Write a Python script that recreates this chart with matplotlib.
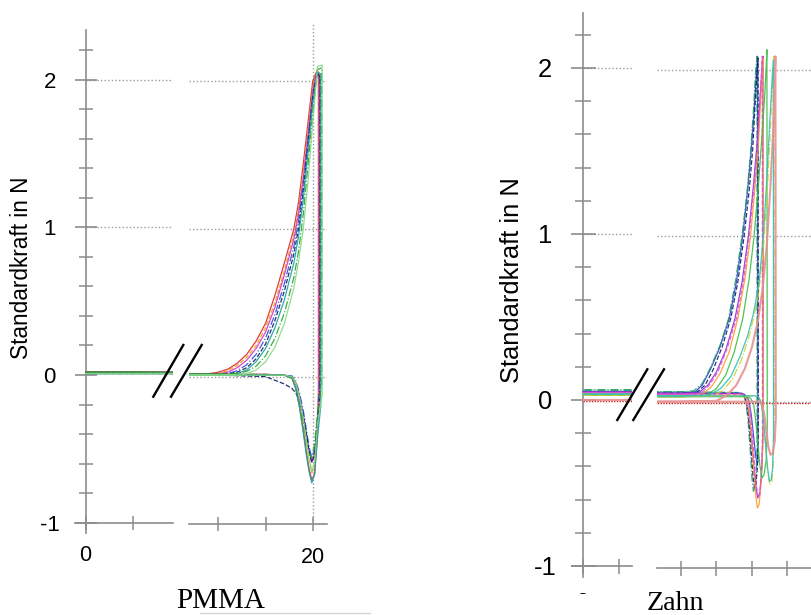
import matplotlib
matplotlib.use('Agg')
import matplotlib.pyplot as plt
from matplotlib.lines import Line2D
from matplotlib.patches import Rectangle
from matplotlib.ticker import MultipleLocator

plt.rcParams['font.family'] = ['Liberation Sans', 'DejaVu Sans']

# ---- PMMA: Standardkraft (N) über Zeit, 8 Messkurven ----
pmma_rise_x = [0, 3, 6, 9, 10, 11, 12, 13, 14, 15, 16, 17, 18, 18.5, 19, 19.5, 20, 20.3, 20.5]
pmma_rise_y = [
    [0.02, 0.02, 0.02, 0.02, 0.03, 0.05, 0.09, 0.15, 0.24, 0.36, 0.55, 0.77, 1.0, 1.18, 1.44, 1.72, 2.0, 2.05, 2.07],
    [0.015, 0.015, 0.015, 0.015, 0.02, 0.04, 0.075, 0.13, 0.21, 0.33, 0.5, 0.72, 0.96, 1.13, 1.38, 1.66, 1.96, 2.04, 2.08],
    [0.02, 0.02, 0.02, 0.02, 0.02, 0.03, 0.06, 0.11, 0.19, 0.3, 0.47, 0.69, 0.93, 1.1, 1.34, 1.63, 1.93, 2.03, 2.06],
    [0.01, 0.01, 0.01, 0.01, 0.012, 0.02, 0.04, 0.08, 0.15, 0.26, 0.42, 0.63, 0.88, 1.05, 1.3, 1.6, 1.9, 2.02, 2.07],
    [0.015, 0.015, 0.015, 0.015, 0.015, 0.018, 0.03, 0.06, 0.12, 0.22, 0.38, 0.58, 0.83, 1.0, 1.25, 1.56, 1.88, 2.0, 2.05],
    [0.01, 0.01, 0.01, 0.01, 0.01, 0.012, 0.02, 0.045, 0.1, 0.19, 0.33, 0.52, 0.77, 0.95, 1.2, 1.52, 1.85, 1.98, 2.06],
    [0.02, 0.02, 0.02, 0.02, 0.02, 0.02, 0.022, 0.035, 0.07, 0.14, 0.26, 0.43, 0.67, 0.85, 1.1, 1.43, 1.78, 1.96, 2.08],
    [0.01, 0.01, 0.01, 0.01, 0.01, 0.01, 0.012, 0.02, 0.045, 0.1, 0.2, 0.36, 0.6, 0.78, 1.0, 1.32, 1.72, 1.94, 2.1],
]
pmma_drop_x = [20.6, 20.65, 20.7, 20.75, 20.8, 20.85, 20.95, 21.0]
pmma_peak_y = [2.05, 2.06, 2.04, 2.05, 2.03, 2.05, 2.09, 2.11]
pmma_drop_y = [-0.1, -0.05, -0.15, 0.0, -0.1, -0.2, -0.05, -0.12]
pmma_dip_x = [20.5, 20.2, 19.9, 19.6, 19.3, 19.0, 18.6, 18.2, 17.8, 17.0, 15.0, 10.0, 5.0, 0.0]
pmma_dip_y = [
    [-0.4, -0.66, -0.7, -0.62, -0.5, -0.36, -0.2, -0.08, -0.01, 0.01, 0.015, 0.015, 0.02, 0.02],
    [-0.38, -0.6, -0.65, -0.56, -0.44, -0.31, -0.17, -0.06, -0.005, 0.01, 0.01, 0.01, 0.01, 0.01],
    [-0.34, -0.54, -0.58, -0.5, -0.38, -0.26, -0.13, -0.04, 0.0, 0.01, 0.015, 0.015, 0.015, 0.015],
    [-0.3, -0.5, -0.55, -0.47, -0.35, -0.23, -0.11, -0.03, 0.005, 0.01, 0.01, 0.01, 0.01, 0.01],
    [-0.3, -0.52, -0.58, -0.5, -0.38, -0.26, -0.16, -0.11, -0.08, -0.05, 0.0, 0.01, 0.01, 0.01],
    [-0.42, -0.66, -0.72, -0.64, -0.52, -0.38, -0.21, -0.08, -0.01, 0.01, 0.01, 0.01, 0.01, 0.01],
    [-0.25, -0.45, -0.55, -0.52, -0.43, -0.31, -0.16, -0.06, -0.01, 0.01, 0.015, 0.015, 0.02, 0.02],
    [-0.32, -0.58, -0.64, -0.55, -0.42, -0.28, -0.14, -0.04, 0.0, 0.01, 0.01, 0.01, 0.01, 0.01],
]
pmma_colors = ['#d62728', '#ff9900', '#cc33cc', '#2a4bd7', '#101860', '#17a2a2', '#2ca02c', '#86d986']
pmma_styles = ['-', '--', '-', '-.', '--', '-', '-.', '-']

# ---- Zahn: 10 Messkurven ----
zahn_rise_x = [
    [0, 6.5, 10, 12.0, 13.0, 14.2, 15.5, 16.8, 17.8, 18.7, 19.4, 19.9, 20.3, 20.6, 20.8],
    [0, 6.5, 10, 11.8, 13.0, 14.1, 15.5, 16.7, 17.7, 18.6, 19.3, 19.8, 20.2, 20.5, 20.7],
    [0, 6.5, 10, 12.2, 13.4, 14.5, 15.8, 17.0, 18.0, 18.9, 19.6, 20.1, 20.4, 20.7, 20.85],
    [0, 6.5, 10, 12.5, 13.8, 15.0, 16.3, 17.6, 18.6, 19.5, 20.2, 20.7, 21.1, 21.4, 21.55],
    [0, 6.5, 10, 13.0, 14.3, 15.5, 16.8, 18.0, 19.0, 19.8, 20.4, 20.9, 21.2, 21.45, 21.55],
    [0, 6.5, 10, 12.8, 14.0, 15.2, 16.5, 17.8, 18.8, 19.6, 20.3, 20.8, 21.1, 21.35, 21.45],
    [0, 6.5, 10, 13.5, 15.0, 16.3, 17.5, 18.7, 19.6, 20.3, 20.9, 21.4, 21.8, 22.0, 22.1],
    [0, 6.5, 10, 14.5, 16.0, 17.3, 18.5, 19.5, 20.2, 20.9, 21.6, 22.2, 22.6, 22.9, 23.1],
    [0, 6.5, 10, 14.0, 15.6, 17.0, 18.3, 19.4, 20.2, 21.0, 21.6, 22.1, 22.5, 22.8, 23.0],
    [0, 6.5, 10, 15.0, 16.5, 17.8, 19.0, 20.0, 20.8, 21.5, 22.1, 22.6, 23.0, 23.2, 23.3],
]
zahn_rise_y = [
    [0.05, 0.05, 0.05, 0.06, 0.1, 0.2, 0.33, 0.5, 0.72, 1.0, 1.28, 1.52, 1.75, 1.97, 2.08],
    [0.06, 0.06, 0.06, 0.065, 0.11, 0.2, 0.34, 0.5, 0.73, 1.0, 1.26, 1.5, 1.75, 1.98, 2.08],
    [0.05, 0.05, 0.05, 0.055, 0.1, 0.19, 0.33, 0.5, 0.72, 1.0, 1.27, 1.52, 1.76, 1.98, 2.07],
    [0.05, 0.05, 0.05, 0.055, 0.1, 0.18, 0.31, 0.5, 0.72, 1.0, 1.3, 1.55, 1.8, 2.0, 2.08],
    [0.04, 0.04, 0.04, 0.045, 0.09, 0.17, 0.3, 0.5, 0.74, 1.0, 1.28, 1.55, 1.8, 2.0, 2.07],
    [0.045, 0.045, 0.045, 0.05, 0.1, 0.18, 0.32, 0.5, 0.73, 1.0, 1.3, 1.56, 1.8, 2.0, 2.08],
    [0.03, 0.03, 0.03, 0.035, 0.08, 0.16, 0.3, 0.5, 0.74, 1.0, 1.3, 1.6, 1.85, 2.02, 2.12],
    [0.03, 0.03, 0.03, 0.035, 0.07, 0.14, 0.25, 0.38, 0.5, 0.64, 0.92, 1.3, 1.65, 1.92, 2.08],
    [0.035, 0.035, 0.035, 0.04, 0.08, 0.15, 0.27, 0.4, 0.53, 0.72, 1.0, 1.35, 1.68, 1.92, 2.06],
    [0.0, 0.0, 0.0, 0.005, 0.04, 0.1, 0.2, 0.33, 0.48, 0.68, 0.95, 1.3, 1.65, 1.92, 2.08],
]
zahn_dip_x = [
    [20.83, 20.85, 20.7, 20.5, 20.2, 19.9, 19.6, 19.3, 18.9, 18.4, 10, 0],
    [20.72, 20.6, 20.4, 20.2, 20.0, 19.8, 19.5, 19.2, 18.9, 18.4, 10, 0],
    [20.88, 20.75, 20.55, 20.35, 20.15, 19.9, 19.6, 19.3, 19.0, 18.5, 10, 0],
    [21.58, 21.4, 21.1, 20.8, 20.5, 20.2, 19.9, 19.5, 19.1, 18.6, 10, 0],
    [21.58, 21.3, 21.0, 20.75, 20.5, 20.2, 19.9, 19.6, 19.2, 18.7, 10, 0],
    [21.48, 21.3, 21.1, 20.9, 20.6, 20.3, 20.0, 19.7, 19.3, 18.8, 10, 0],
    [22.15, 22.0, 21.7, 21.4, 21.1, 20.8, 20.5, 20.2, 19.8, 19.3, 10, 0],
    [23.13, 23.0, 22.8, 22.5, 22.2, 21.9, 21.6, 21.3, 20.9, 20.4, 10, 0],
    [23.03, 22.9, 22.7, 22.45, 22.2, 21.9, 21.6, 21.3, 20.9, 20.4, 10, 0],
    [23.35, 23.2, 22.9, 22.6, 22.3, 22.0, 21.7, 21.3, 20.8, 20.0, 10, 0],
]
zahn_dip_y = [
    [-0.2, -0.36, -0.37, -0.32, -0.2, -0.08, 0.0, 0.03, 0.045, 0.05, 0.05, 0.05],
    [-0.25, -0.44, -0.52, -0.54, -0.46, -0.32, -0.14, -0.02, 0.03, 0.055, 0.06, 0.06],
    [-0.2, -0.4, -0.5, -0.52, -0.45, -0.3, -0.13, -0.02, 0.03, 0.05, 0.05, 0.05],
    [-0.15, -0.4, -0.55, -0.58, -0.5, -0.36, -0.2, -0.05, 0.03, 0.05, 0.05, 0.05],
    [-0.2, -0.48, -0.62, -0.64, -0.55, -0.38, -0.2, -0.06, 0.02, 0.04, 0.04, 0.04],
    [-0.2, -0.45, -0.56, -0.58, -0.5, -0.34, -0.17, -0.04, 0.03, 0.045, 0.045, 0.045],
    [-0.15, -0.35, -0.44, -0.46, -0.38, -0.24, -0.1, -0.01, 0.02, 0.03, 0.03, 0.03],
    [-0.15, -0.38, -0.48, -0.5, -0.42, -0.26, -0.1, 0.0, 0.03, 0.035, 0.03, 0.03],
    [-0.2, -0.4, -0.47, -0.48, -0.4, -0.25, -0.1, -0.01, 0.03, 0.035, 0.035, 0.035],
    [-0.1, -0.24, -0.31, -0.32, -0.27, -0.17, -0.07, -0.01, 0.0, 0.0, 0.0, 0.0],
]
zahn_colors = ['#2b45d4', '#1f9a6a', '#151d6e', '#8a35d0', '#ff9a2a',
               '#e04ee0', '#3dbb45', '#d4d02a', '#30c0b8', '#e59090']
zahn_styles = ['-', '-.', '--', '-', '-', '--', '-', '-.', '-', '-']
zahn_zero_x = [0, 28.5]
zahn_zero_y = [-0.005, -0.005]

y_ticks = [-1, 0, 1, 2]
y_labels = ['-1', '0', '1', '2']

W, H = 811, 615
AXC = '#8c8c8c'
GRID = '#9a9a9a'
fig = plt.figure(figsize=(W / 100, H / 100), dpi=100)


def box(l, t, r, b):
    # pixel box (from top-left) -> figure fraction
    return [l / W, 1 - b / H, (r - l) / W, (b - t) / H]


def segment(rect, xlim, ylim, with_y, fs, ylen, xlen, ypad, xpad):
    ax = fig.add_axes(rect)
    ax.set_xlim(*xlim)
    ax.set_ylim(*ylim)
    ax.patch.set_alpha(0)
    ax.spines['top'].set_visible(False)
    ax.spines['right'].set_visible(False)
    ax.spines['bottom'].set_position(('data', -1))
    ax.spines['bottom'].set_color(AXC)
    ax.spines['bottom'].set_linewidth(1.2)
    ax.tick_params(axis='x', direction='inout', length=xlen, width=1.1, color=AXC, pad=xpad)
    if with_y:
        ax.spines['left'].set_position(('data', 0))
        ax.spines['left'].set_color(AXC)
        ax.spines['left'].set_linewidth(1.2)
        ax.set_yticks(y_ticks, y_labels, fontsize=fs, ha='center')
        ax.yaxis.set_minor_locator(MultipleLocator(0.2))
        ax.tick_params(axis='y', which='major', direction='inout', length=ylen,
                       width=1.2, color=AXC, pad=ypad)
        ax.tick_params(axis='y', which='minor', direction='inout', length=ylen * 0.65,
                       width=1.1, color=AXC)
    else:
        ax.spines['left'].set_visible(False)
        ax.tick_params(axis='y', which='both', left=False, labelleft=False)
    return ax


def grid(ax, x0, x1, levels):
    ax.hlines(levels, x0, x1, colors=GRID, linestyles=(0, (1, 1.6)), linewidth=1.0, zorder=1)


# PMMA, linker und rechter Abschnitt
p_left = segment(box(75, 30, 173.3, 532.7), (-1.13, 9.28), (-1.068, 2.336), True,
                 16, 15.8, 9.6, 18.0, 11.5)
p_right = segment(box(189, 22, 326.7, 524.3), (6.90, 21.48), (-1.0, 2.401), False,
                  16, 15.8, 9.6, 18.0, 11.5)
p_left.set_xticks([0, 5], ['0', ''], fontsize=15.5)
p_right.set_xticks([10, 15, 20], ['', '', '20'], fontsize=15.5)
grid(p_left, 0, 9.28, [1, 2])
grid(p_right, 6.90, 21.48, [0, 1, 2])
p_right.axvline(20, color=GRID, linestyle=(0, (1, 1.6)), linewidth=1.0, zorder=1)

for i in range(len(pmma_rise_y)):
    xs = pmma_rise_x + [pmma_drop_x[i], pmma_drop_x[i]] + pmma_dip_x
    ys = pmma_rise_y[i] + [pmma_peak_y[i], pmma_drop_y[i]] + pmma_dip_y[i]
    for ax in (p_left, p_right):
        ax.plot(xs, ys, color=pmma_colors[i], linestyle=pmma_styles[i], linewidth=0.9,
                alpha=0.9, zorder=3)

# Zahn, linker und rechter Abschnitt
z_left = segment(box(571.7, 13.3, 631.7, 576.7), (-1.63, 6.82), (-1.0645, 2.3295), True,
                 18.4, 18.0, 10.8, 18.6, 13.3)
z_right = segment(box(656.7, 15, 811, 567.7), (6.58, 28.31), (-1.0, 2.329), False,
                  18.4, 18.0, 10.8, 18.6, 13.3)
z_left.set_xticks([0, 5], ['0', ''], fontsize=18)
z_right.set_xticks([10, 15, 20, 25], ['', '', '', ''])
grid(z_left, 0, 6.82, [1, 2])
grid(z_right, 6.58, 28.31, [0, 1, 2])

for ax in (z_left, z_right):
    ax.plot(zahn_zero_x, zahn_zero_y, color='#cc2020', linestyle=(0, (1, 1)), linewidth=1.0, zorder=3)
for i in range(len(zahn_rise_x)):
    xs = zahn_rise_x[i] + zahn_dip_x[i]
    ys = zahn_rise_y[i] + zahn_dip_y[i]
    lw = 1.5 if i == len(zahn_rise_x) - 1 else 0.9
    for ax in (z_left, z_right):
        ax.plot(xs, ys, color=zahn_colors[i], linestyle=zahn_styles[i], linewidth=lw,
                alpha=0.9, zorder=3)

# Achsenbruch-Markierungen
for (x1, y1, x2, y2) in [(153.3, 396.7, 183.3, 345), (171, 396.7, 201.7, 345),
                         (617.3, 420, 647.3, 369.3), (633.3, 420, 664, 369.3)]:
    fig.add_artist(Line2D([x1 / W, x2 / W], [1 - y1 / H, 1 - y2 / H], transform=fig.transFigure,
                          color='black', linewidth=1.7, zorder=5))

# Achsentitel
fig.text(21.7 / W, 1 - 268 / H, 'Standardkraft in N', rotation=90, ha='center', va='center',
         fontsize=16.3)
fig.text(512 / W, 1 - 280 / H, 'Standardkraft in N', rotation=90, ha='center', va='center',
         fontsize=18.4)

# Bildunterschriften
fig.add_artist(Rectangle((560 / W, 0), (W - 560) / W, 21 / H, transform=fig.transFigure,
                         facecolor='white', edgecolor='none', zorder=4))
fig.add_artist(Line2D([200 / W, 370 / W], [1 - 613 / H, 1 - 613 / H], transform=fig.transFigure,
                      color='#d4d4d4', linewidth=1.0, zorder=4))
fig.text(221 / W, 1 - 608.5 / H, 'PMMA', ha='center', va='baseline', fontsize=21,
         family='Liberation Serif', zorder=6)
fig.text(646.7 / W, 1 - 610 / H, 'Zahn', ha='left', va='baseline', fontsize=20.2,
         family='Liberation Serif', zorder=6)

fig.savefig('out.png', dpi=100)
